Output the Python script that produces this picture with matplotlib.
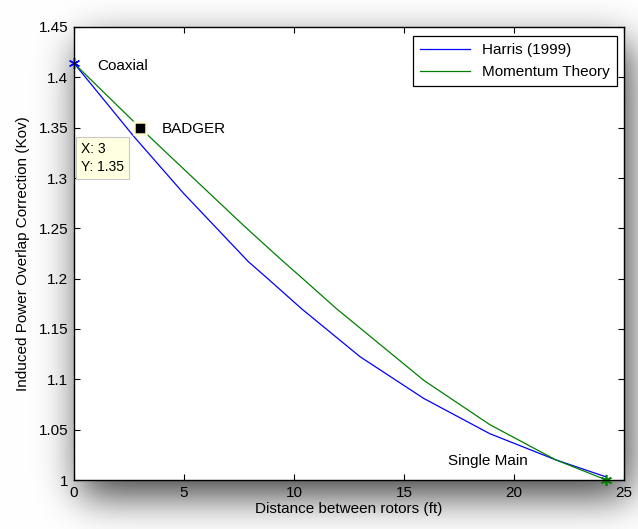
import math
import numpy as np
import matplotlib
matplotlib.use("Agg")
import matplotlib.pyplot as plt

# ---------------- data ----------------
harris_x = [0, 2.73, 3.45, 4.97, 7.92, 8.86, 10.35, 13.0, 15.9, 18.9, 21.9, 24.2]
harris_y = [1.414, 1.341, 1.323, 1.285, 1.217, 1.199, 1.170, 1.1225, 1.081, 1.046, 1.020, 1.003]
mom_x = [0, 3.0, 4.06, 7.7, 9.36, 10.45, 11.94, 13.0, 15.9, 18.9, 21.9, 24.2]
mom_y = [1.414, 1.350, 1.328, 1.253, 1.220, 1.199, 1.170, 1.151, 1.099, 1.055, 1.020, 1.000]
badger = (3, 1.35)
coaxial = (0, 1.414)
single_main = (24.2, 1.0)
xticks = [0, 5, 10, 15, 20, 25]
yticks = [1, 1.05, 1.1, 1.15, 1.2, 1.25, 1.3, 1.35, 1.4, 1.45]
ytick_labels = ["1", "1.05", "1.1", "1.15", "1.2", "1.25", "1.3", "1.35", "1.4", "1.45"]

plt.rcParams['font.family'] = ['Liberation Sans', 'DejaVu Sans']

W, H = 638, 529
fig = plt.figure(figsize=(W / 100, H / 100), dpi=100)
fig.patch.set_facecolor('white')

# ---- soft drop shadow behind the axes ----
ax_l, ax_r, ax_t, ax_b = 74, 624, 27, 480
off_x, off_y, sig, amp = 6, 16, 20, 0.75
erf = np.vectorize(math.erf)
xs = np.arange(W) + 0.5
ys = np.arange(H) + 0.5
sx = 0.5 * (erf((xs - (ax_l + off_x)) / (sig * 1.414)) - erf((xs - (ax_r + off_x)) / (sig * 1.414)))
sy = 0.5 * (erf((ys - (ax_t + off_y)) / (sig * 1.414)) - erf((ys - (ax_b + off_y)) / (sig * 1.414)))
shadow = amp * np.outer(sy, sx)
img = 1 - shadow
rgb = np.dstack([img, img, img])
fig.figimage(rgb, xo=0, yo=0, origin='upper', zorder=-10)

ax = fig.add_axes([ax_l / W, 1 - ax_b / H, (ax_r - ax_l) / W, (ax_b - ax_t) / H])
ax.set_zorder(5)
ax.set_facecolor('white')

ax.plot(harris_x, harris_y, color='#0000ff', lw=0.9, label='Harris (1999)')
ax.plot(mom_x, mom_y, color='#008000', lw=0.9, label='Momentum Theory')

ast = (6, 2, 0)
ax.plot([coaxial[0]], [coaxial[1]], marker=ast, color='#0000ff', ms=8, mew=1.0, ls='none', clip_on=False)
ax.plot([single_main[0]], [single_main[1]], marker=ast, color='#008000', ms=8, mew=1.2, ls='none', clip_on=False)
ax.plot([badger[0]], [badger[1]], marker='s', color='black', ms=8, mec='#fffbd0', mew=1.8, ls='none', zorder=5)

ax.text(1.05, 1.411, 'Coaxial', fontsize=11, va='center', ha='left')
ax.text(3.97, 1.349, 'BADGER', fontsize=11, va='center', ha='left')
ax.text(17.0, 1.019, 'Single Main', fontsize=11, va='center', ha='left')

ax.text(0.32, 1.320, 'X: 3\nY: 1.35', fontsize=10, va='center', ha='left', linespacing=1.35,
        bbox=dict(boxstyle='square,pad=0.35', fc='#ffffe1', ec='#c8c8c8', lw=0.8), zorder=6)

ax.set_xlim(0, 25)
ax.set_ylim(1, 1.45)
ax.set_xticks(xticks)
ax.set_xticklabels([str(t) for t in xticks])
ax.set_yticks(yticks)
ax.set_yticklabels(ytick_labels)
ax.tick_params(direction='in', top=True, right=True, length=4, width=0.8, labelsize=11, pad=4)
for s in ax.spines.values():
    s.set_linewidth(1.0)
    s.set_color('black')

ax.set_xlabel('Distance between rotors (ft)', fontsize=11, labelpad=2)
ax.set_ylabel('Induced Power Overlap Correction (Kov)', fontsize=11, labelpad=6)

leg = ax.legend(loc='upper right', bbox_to_anchor=(0.987, 0.980), borderaxespad=0,
                fancybox=False, edgecolor='black', framealpha=1, fontsize=11,
                handlelength=3.3, labelspacing=0.55, borderpad=0.45)
leg.get_frame().set_linewidth(0.9)

fig.savefig('out.png', dpi=100)
